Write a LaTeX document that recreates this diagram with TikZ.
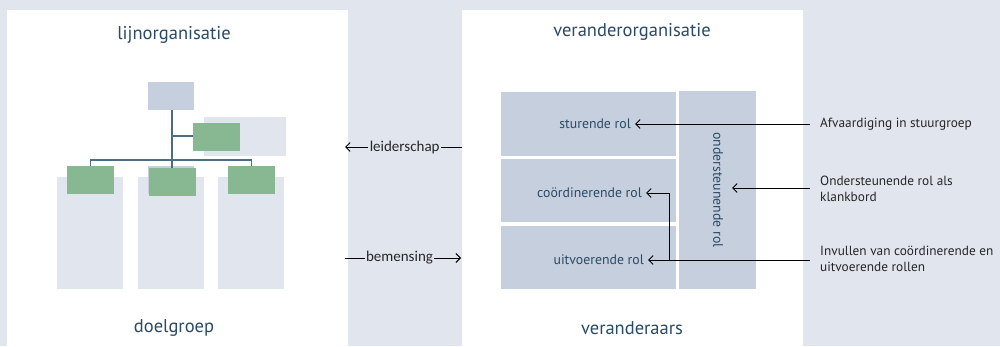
\documentclass[tikz,border=0pt]{standalone}
\usepackage{fontspec}
\setmainfont{PT Sans}
\newfontfamily\calib{Carlito}
\usetikzlibrary{arrows.meta}
\definecolor{bgc}{HTML}{E1E5EE}
\definecolor{boxc}{HTML}{C5CFDD}
\definecolor{grn}{HTML}{88B891}
\definecolor{lnc}{HTML}{4F6C80}
\definecolor{txc}{HTML}{2B4A66}
\tikzset{
  title/.style={text=txc, font=\fontsize{18.5}{20}\selectfont, inner sep=0},
  rolt/.style={text=txc, font=\fontsize{13.8}{15}\selectfont, inner sep=4pt},
  lab/.style={text=black!85, font=\fontsize{13.3}{16}\selectfont, align=left, inner sep=0},
  mid/.style={text=black!85, font=\calib\fontsize{15}{17}\selectfont, inner sep=1.5pt, fill=bgc},
  arr/.style={-{Straight Barb[length=4.5pt,width=9pt]}, line width=0.9pt, black},
  org/.style={draw=lnc, line width=1.2pt},
}
\begin{document}
\begin{tikzpicture}[x=1pt,y=-1pt]
\useasboundingbox (0,0) rectangle (1000,346);
\fill[bgc] (0,0) rectangle (1000,346);
\fill[white] (7,10) rectangle (348,346);
\fill[white] (462,10) rectangle (803,346);
% left panel
\node[title] (lo) at (174,35) {lijnorganisatie};
\node[title] (dg) at (174,328) {doelgroep};
\fill[bgc] (57,177) rectangle (123,289);
\fill[bgc] (138,177) rectangle (204,289);
\fill[bgc] (218,177) rectangle (284,289);
\fill[bgc] (204,117) rectangle (286,156);
\node[fill=boxc, minimum width=46pt, minimum height=28pt, inner sep=0] (top) at (171,96) {};
\fill[boxc] (148,166) rectangle (194,194);
\coordinate (hj) at (172,160);
\coordinate (bj) at (172,136);
\node[fill=grn, minimum width=47pt, minimum height=28pt, inner sep=0] (gr) at (216.5,137) {};
\node[fill=grn, minimum width=47pt, minimum height=28pt, inner sep=0] (g1) at (90.5,180) {};
\node[fill=grn, minimum width=47pt, minimum height=28pt, inner sep=0] (g2) at (172.5,182) {};
\node[fill=grn, minimum width=47pt, minimum height=28pt, inner sep=0] (g3) at (251.5,180) {};
\draw[org] (top.south -| hj) -- (g2.north -| hj);
\draw[org] (bj) -- (bj -| gr.west);
\draw[org] (g1.north) |- (hj) -| (g3.north);
% right panel
\node[title] (vo) at (632,32) {veranderorganisatie};
\node[title] (va) at (632,328) {veranderaars};
\fill[boxc] (501,92) rectangle (676,156);
\fill[boxc] (501,159) rectangle (676,222);
\fill[boxc] (501,226) rectangle (676,289);
\fill[boxc] (679,91) rectangle (756,289);
\node[rolt, anchor=east] (st) at (635,124) {sturende rol};
\node[rolt, anchor=east] (co) at (646,193) {coördinerende rol};
\node[rolt, anchor=east] (ui) at (648,260) {uitvoerende rol};
\node[rolt, rotate=-90] (on) at (718,190) {ondersteunende rol};
\coordinate (ont) at (732,188);
% labels
\node[lab, anchor=west] (l1) at (820,124) {Afvaardiging in stuurgroep};
\node[lab, anchor=west] (l2) at (820,189) {Ondersteunende rol als\\klankbord};
\node[lab, anchor=west] (l3) at (820,259) {Invullen van coördinerende en\\uitvoerende rollen};
\coordinate (e1) at (810,124);
\coordinate (e2) at (810,188);
\coordinate (e3) at (810,260);
\coordinate (elb) at (669,260);
\draw[arr] (e1) -- (st.east);
\draw[arr] (e2) -- (ont);
\draw[arr] (e3) -- (ui.east);
\draw[arr] (elb) |- (co.east);
% middle
\coordinate (ls) at (462,147);
\coordinate (le) at (345,147);
\coordinate (bs) at (345,258);
\coordinate (be) at (461,258);
\draw[arr] (ls) -- (le) node[mid, pos=0.49] (lei) {leiderschap};
\draw[arr] (bs) -- (be) node[mid, pos=0.47] (bem) {bemensing};
\end{tikzpicture}
\end{document}
